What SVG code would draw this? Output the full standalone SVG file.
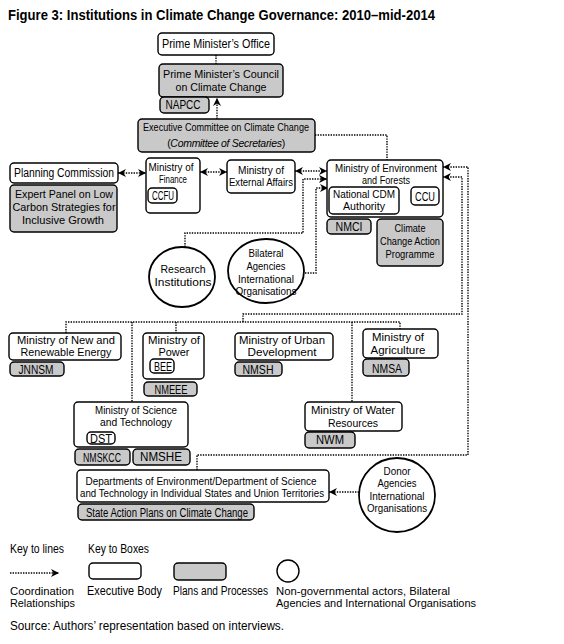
<svg xmlns="http://www.w3.org/2000/svg" width="564" height="644" viewBox="0 0 564 644">
<defs>
<style>
.box{fill:#fff;stroke:#000;stroke-width:1.4}
.plan{fill:#c9c9c9;stroke:#000;stroke-width:1.4}
.circ{fill:#fff;stroke:#000;stroke-width:1.8}
.t{font-family:"Liberation Sans",Arial,sans-serif;font-size:12px;text-anchor:middle;fill:#000}
.m{font-size:11px}
.s{font-size:10.5px}
.l{text-anchor:start}
.conn{fill:none;stroke:#000;stroke-width:1.4;stroke-dasharray:1.4 1.2}
</style>
<marker id="ah" viewBox="0 0 10 10" refX="10" refY="5" markerWidth="9" markerHeight="8" markerUnits="userSpaceOnUse" orient="auto-start-reverse">
<path d="M0,0 L10,5 L0,10 L3,5 z" fill="#000" stroke="none"/>
</marker>
</defs>
<rect width="564" height="644" fill="#fff"/>
<text x="8" y="19.5" font-family="'Liberation Sans',Arial,sans-serif" font-weight="bold" font-size="14" textLength="427" lengthAdjust="spacingAndGlyphs">Figure 3: Institutions in Climate Change Governance: 2010–mid-2014</text>

<g id="connectors">
<path class="conn" d="M216,55 V64"/>
<path class="conn" d="M217,119 V98" marker-end="url(#ah)"/>
<path class="conn" d="M315,135 H387 V160"/>
<path class="conn" d="M118,173 H146" marker-start="url(#ah)" marker-end="url(#ah)"/>
<path class="conn" d="M200,172 H227" marker-start="url(#ah)" marker-end="url(#ah)"/>
<path class="conn" d="M295,171 H327" marker-start="url(#ah)" marker-end="url(#ah)"/>
<path class="conn" d="M185,247 V233 H303 V179 H327" marker-end="url(#ah)"/>
<path class="conn" d="M305,273 H316 V188 H328" marker-end="url(#ah)"/>
<path class="conn" d="M197,470 V455 H468 V167 H443" marker-end="url(#ah)"/>
<path class="conn" d="M243,322 V314 H462 V177 H443" marker-end="url(#ah)"/>
<path class="conn" d="M66,333 V322 H400 V329"/>
<path class="conn" d="M132,322 V402"/>
<path class="conn" d="M176,322 V333"/>
<path class="conn" d="M352,322 V402"/>
<path class="conn" d="M359,492 H329" marker-end="url(#ah)"/>
</g>

<g id="pmo"><rect class="box" x="158" y="33" width="116" height="22" rx="4"/><text class="t" x="216" y="48" textLength="108" lengthAdjust="spacingAndGlyphs">Prime Minister’s Office</text></g>
<g id="pmc"><rect class="plan" x="159" y="64" width="124" height="33" rx="4"/><text class="t m" x="221" y="78" textLength="116" lengthAdjust="spacingAndGlyphs">Prime Minister’s Council</text><text class="t m" x="221" y="91" textLength="91" lengthAdjust="spacingAndGlyphs">on Climate Change</text></g>
<g id="napcc"><rect class="plan" x="160" y="97" width="49" height="16" rx="4"/><text class="t" x="183" y="109" textLength="35" lengthAdjust="spacingAndGlyphs">NAPCC</text></g>
<g id="exec"><rect class="plan" x="138" y="119" width="177" height="33" rx="4"/><text class="t s" x="226" y="131" textLength="166" lengthAdjust="spacingAndGlyphs">Executive Committee on Climate Change</text><text class="t" x="226" y="146.5" style="font-size:10.5px" letter-spacing="-0.3">(<tspan font-style="italic">Committee of Secretaries</tspan>)</text></g>
<g id="planning"><rect class="box" x="10" y="163" width="108" height="20" rx="4"/><text class="t" x="64" y="177" textLength="100" lengthAdjust="spacingAndGlyphs">Planning Commission</text></g>
<g id="expert"><rect class="plan" x="10" y="185" width="107" height="47" rx="4"/><text class="t m" x="64" y="198" textLength="98" lengthAdjust="spacingAndGlyphs">Expert Panel on Low</text><text class="t m" x="64" y="211" textLength="103" lengthAdjust="spacingAndGlyphs">Carbon Strategies for</text><text class="t m" x="63" y="224" textLength="82" lengthAdjust="spacingAndGlyphs">Inclusive Growth</text></g>
<g id="mof"><rect class="box" x="146" y="158" width="54" height="55" rx="4"/><text class="t m" x="171" y="171" textLength="45" lengthAdjust="spacingAndGlyphs">Ministry of</text><text class="t m" x="173" y="183" textLength="28" lengthAdjust="spacingAndGlyphs">Finance</text><rect class="box" x="148" y="188" width="29" height="15" rx="4"/><text class="t" x="163" y="200" textLength="22" lengthAdjust="spacingAndGlyphs">CCFU</text></g>
<g id="mea"><rect class="box" x="227" y="160" width="68" height="33" rx="4"/><text class="t m" x="261" y="174" textLength="46" lengthAdjust="spacingAndGlyphs">Ministry of</text><text class="t m" x="261" y="186" textLength="64" lengthAdjust="spacingAndGlyphs">External Affairs</text></g>
<g id="moef"><rect class="box" x="327" y="160" width="116" height="57" rx="4"/><text class="t m" x="386" y="172" textLength="102" lengthAdjust="spacingAndGlyphs">Ministry of Environment</text><text class="t m" x="386" y="184" textLength="48" lengthAdjust="spacingAndGlyphs">and Forests</text><rect class="box" x="329" y="187" width="70" height="27" rx="4" stroke-width="1.8"/><text class="t m" x="364" y="198" textLength="62" lengthAdjust="spacingAndGlyphs">National CDM</text><text class="t m" x="364" y="209.5" textLength="42" lengthAdjust="spacingAndGlyphs">Authority</text><rect class="box" x="411" y="187" width="28" height="18" rx="4"/><text class="t" x="425" y="201" textLength="20" lengthAdjust="spacingAndGlyphs">CCU</text></g>
<g id="nmci"><rect class="plan" x="327" y="219" width="44" height="15" rx="4"/><text class="t" x="349" y="231" textLength="27" lengthAdjust="spacingAndGlyphs">NMCI</text></g>
<g id="ccap"><rect class="plan" x="377" y="219" width="66" height="47" rx="4"/><text class="t m" x="410" y="232" textLength="31" lengthAdjust="spacingAndGlyphs">Climate</text><text class="t m" x="410" y="245" textLength="60" lengthAdjust="spacingAndGlyphs">Change Action</text><text class="t m" x="410" y="258" textLength="49" lengthAdjust="spacingAndGlyphs">Programme</text></g>
<g id="research"><ellipse class="circ" cx="182" cy="277" rx="33" ry="30"/><text class="t m" x="183" y="273" textLength="45" lengthAdjust="spacingAndGlyphs">Research</text><text class="t m" x="183" y="285.5" textLength="57" lengthAdjust="spacingAndGlyphs">Institutions</text></g>
<g id="bilateral"><ellipse class="circ" cx="266" cy="271" rx="38" ry="32"/><text class="t m" x="266" y="257" textLength="35" lengthAdjust="spacingAndGlyphs">Bilateral</text><text class="t m" x="266" y="269.5" textLength="39" lengthAdjust="spacingAndGlyphs">Agencies</text><text class="t m" x="266" y="282.5" textLength="56" lengthAdjust="spacingAndGlyphs">International</text><text class="t m" x="266" y="295" textLength="61" lengthAdjust="spacingAndGlyphs">Organisations</text></g>
<g id="mnre"><rect class="box" x="9" y="333" width="112" height="27" rx="4"/><text class="t m" x="66" y="344" textLength="98" lengthAdjust="spacingAndGlyphs">Ministry of New and</text><text class="t m" x="66" y="356" textLength="91" lengthAdjust="spacingAndGlyphs">Renewable Energy</text></g>
<g id="jnnsm"><rect class="plan" x="10" y="362" width="54" height="14" rx="4"/><text class="t" x="36" y="373.5" textLength="35" lengthAdjust="spacingAndGlyphs">JNNSM</text></g>
<g id="power"><rect class="box" x="143" y="333" width="61" height="46" rx="4"/><text class="t m" x="174" y="344" textLength="52" lengthAdjust="spacingAndGlyphs">Ministry of</text><text class="t m" x="174" y="356" textLength="31" lengthAdjust="spacingAndGlyphs">Power</text><rect class="box" x="150" y="359" width="24" height="14" rx="4"/><text class="t" x="163" y="370.5" textLength="18" lengthAdjust="spacingAndGlyphs">BEE</text></g>
<g id="nmeee"><rect class="plan" x="144" y="382" width="53" height="14" rx="4"/><text class="t" x="171" y="393.5" textLength="33" lengthAdjust="spacingAndGlyphs">NMEEE</text></g>
<g id="urban"><rect class="box" x="235" y="333" width="98" height="27" rx="4"/><text class="t m" x="282" y="344" textLength="86" lengthAdjust="spacingAndGlyphs">Ministry of Urban</text><text class="t m" x="282" y="356" textLength="69" lengthAdjust="spacingAndGlyphs">Development</text></g>
<g id="nmsh"><rect class="plan" x="235" y="362" width="47" height="14" rx="4"/><text class="t" x="258" y="373.5" textLength="31" lengthAdjust="spacingAndGlyphs">NMSH</text></g>
<g id="agri"><rect class="box" x="363" y="329" width="75" height="29" rx="4"/><text class="t m" x="398" y="341" textLength="52" lengthAdjust="spacingAndGlyphs">Ministry of</text><text class="t m" x="398" y="353.5" textLength="55" lengthAdjust="spacingAndGlyphs">Agriculture</text></g>
<g id="nmsa"><rect class="plan" x="363" y="359" width="46" height="17" rx="4"/><text class="t" x="387" y="372.5" textLength="30" lengthAdjust="spacingAndGlyphs">NMSA</text></g>
<g id="water"><rect class="box" x="305" y="402" width="97" height="29" rx="4"/><text class="t m" x="353" y="414" textLength="84" lengthAdjust="spacingAndGlyphs">Ministry of Water</text><text class="t m" x="353" y="427" textLength="50" lengthAdjust="spacingAndGlyphs">Resources</text></g>
<g id="nwm"><rect class="plan" x="305" y="432" width="50" height="16" rx="4"/><text class="t" x="330" y="444" textLength="28" lengthAdjust="spacingAndGlyphs">NWM</text></g>
<g id="most"><rect class="box" x="74" y="402" width="114" height="45" rx="4"/><text class="t m" x="136" y="413.5" textLength="82" lengthAdjust="spacingAndGlyphs">Ministry of Science</text><text class="t m" x="136" y="425.5" textLength="72" lengthAdjust="spacingAndGlyphs">and Technology</text><rect class="box" x="87" y="432" width="28" height="12" rx="4"/><text class="t" x="101" y="442.5" textLength="22" lengthAdjust="spacingAndGlyphs">DST</text></g>
<g id="nmskcc"><rect class="plan" x="75" y="449" width="55" height="16" rx="4"/><text class="t" x="102" y="461.5" textLength="38" lengthAdjust="spacingAndGlyphs">NMSKCC</text></g>
<g id="nmshe"><rect class="plan" x="133" y="449" width="57" height="16" rx="4"/><text class="t" x="161" y="461" textLength="42" lengthAdjust="spacingAndGlyphs">NMSHE</text></g>
<g id="departments"><rect class="box" x="77" y="470" width="252" height="32" rx="4"/><text class="t m" x="201" y="484.5" textLength="231" lengthAdjust="spacingAndGlyphs">Departments of Environment/Department of Science</text><text class="t m" x="202" y="497" textLength="244" lengthAdjust="spacingAndGlyphs">and Technology in Individual States and Union Territories</text></g>
<g id="sapcc"><rect class="plan" x="78" y="504" width="176" height="16" rx="4"/><text class="t" x="167" y="516.5" textLength="162" lengthAdjust="spacingAndGlyphs">State Action Plans on Climate Change</text></g>
<g id="donor"><ellipse class="circ" cx="397" cy="495" rx="38" ry="37"/><text class="t m" x="397" y="474.5" textLength="27" lengthAdjust="spacingAndGlyphs">Donor</text><text class="t m" x="397" y="487" textLength="39" lengthAdjust="spacingAndGlyphs">Agencies</text><text class="t m" x="397" y="499.5" textLength="55" lengthAdjust="spacingAndGlyphs">International</text><text class="t m" x="397" y="512" textLength="60" lengthAdjust="spacingAndGlyphs">Organisations</text></g>

<g id="legend">
<text class="t l" x="10" y="553" textLength="54" lengthAdjust="spacingAndGlyphs">Key to lines</text>
<text class="t l" x="88" y="553" textLength="61" lengthAdjust="spacingAndGlyphs">Key to Boxes</text>
<path class="conn" d="M10,573 H59" marker-end="url(#ah)"/>
<rect class="box" x="89" y="563" width="52" height="16" rx="4"/>
<rect class="plan" x="174" y="563" width="52" height="17" rx="4" stroke="#888"/>
<circle class="box" cx="288" cy="571" r="11"/>
<text class="t l m" x="10" y="594.5" textLength="64" lengthAdjust="spacingAndGlyphs">Coordination</text>
<text class="t l m" x="10" y="607" textLength="65" lengthAdjust="spacingAndGlyphs">Relationships</text>
<text class="t l" x="87" y="595" textLength="75" lengthAdjust="spacingAndGlyphs">Executive Body</text>
<text class="t l" x="173" y="595" textLength="95" lengthAdjust="spacingAndGlyphs">Plans and Processes</text>
<text class="t l m" x="276" y="594.5" textLength="174" lengthAdjust="spacingAndGlyphs">Non-governmental actors, Bilateral</text>
<text class="t l m" x="276" y="607" textLength="200" lengthAdjust="spacingAndGlyphs">Agencies and International Organisations</text>
<text class="t l" x="10" y="630" textLength="274" lengthAdjust="spacingAndGlyphs">Source: Authors’ representation based on interviews.</text>
</g>
</svg>
